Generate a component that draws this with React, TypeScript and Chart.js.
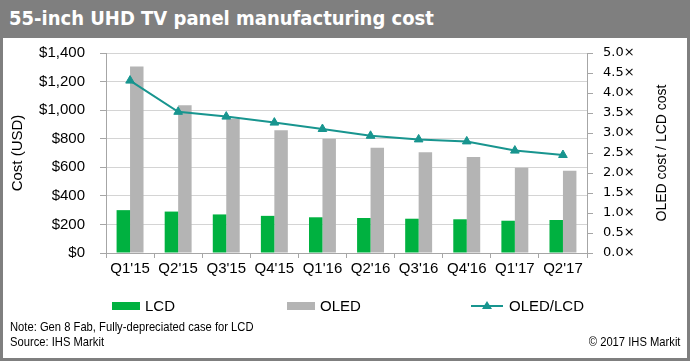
import React, { useEffect, useRef } from "react";
import { Chart, registerables } from "chart.js";

Chart.register(...registerables);

const categories = ["Q1'15", "Q2'15", "Q3'15", "Q4'15", "Q1'16", "Q2'16", "Q3'16", "Q4'16", "Q1'17", "Q2'17"];
const lcdCost = [300, 290, 270, 260, 250, 245, 240, 236, 226, 231];
const oledCost = [1305, 1035, 940, 860, 800, 737, 705, 672, 597, 576];
const costRatio = [4.31, 3.53, 3.41, 3.26, 3.1, 2.93, 2.84, 2.79, 2.56, 2.45];
const seriesLabels = ["LCD", "OLED", "OLED/LCD"];
const costAxisRange = [0, 1400, 200];
const ratioAxisRange = [0, 5, 0.5];
const ratioAxisTitle = "OLED cost / LCD cost";

const GREEN = "#00b140";
const GRAY = "#b4b4b4";
const TEAL = "#18958f";
const AXIS = "#a6a6a6";
const GRID = "#d4d4d4";
const ARIAL = '"Liberation Sans", Arial, sans-serif';

const legendPlugin = {
  id: "customLegend",
  afterDraw(chart: any) {
    const ctx = chart.ctx as CanvasRenderingContext2D;
    const xs = [112, 287, 471];
    const y = 306;
    chart.data.datasets.forEach((ds: any, i: number) => {
      const x = xs[i];
      ctx.save();
      ctx.font = `15px ${ARIAL}`;
      ctx.fillStyle = "#000";
      ctx.textBaseline = "middle";
      if (ds.type === "line") {
        ctx.strokeStyle = ds.borderColor;
        ctx.lineWidth = 2;
        ctx.beginPath();
        ctx.moveTo(x, y);
        ctx.lineTo(x + 32, y);
        ctx.stroke();
        ctx.fillStyle = ds.borderColor;
        ctx.beginPath();
        ctx.moveTo(x + 16, y - 5);
        ctx.lineTo(x + 21, y + 3);
        ctx.lineTo(x + 11, y + 3);
        ctx.closePath();
        ctx.fill();
        ctx.fillStyle = "#000";
        ctx.fillText(ds.label, x + 38, y + 1);
      } else {
        ctx.fillStyle = ds.backgroundColor;
        ctx.fillRect(x, y - 4, 28, 8);
        ctx.fillStyle = "#000";
        ctx.fillText(ds.label, x + 33, y + 1);
      }
      ctx.restore();
    });
  },
};

const rightTitlePlugin = {
  id: "rightTitle",
  afterDraw(chart: any) {
    const ctx = chart.ctx as CanvasRenderingContext2D;
    const s = chart.scales.y1;
    const cy = (s.top + s.bottom) / 2;
    ctx.save();
    ctx.translate(s.right - 18, cy);
    ctx.rotate(-Math.PI / 2);
    ctx.font = `14px ${ARIAL}`;
    ctx.fillStyle = "#000";
    ctx.textAlign = "center";
    ctx.textBaseline = "middle";
    ctx.fillText(ratioAxisTitle, 0, 0);
    ctx.restore();
  },
};

export default function App() {
  const ref = useRef<HTMLCanvasElement>(null);
  useEffect(() => {
    document.body.style.margin = "0";
    const chart = new Chart(ref.current as HTMLCanvasElement, {
      type: "bar",
      data: {
        labels: categories,
        datasets: [
          {
            type: "bar",
            label: seriesLabels[0],
            data: lcdCost,
            backgroundColor: GREEN,
            yAxisID: "y",
            order: 1,
            categoryPercentage: 0.56,
            barPercentage: 1,
          },
          {
            type: "bar",
            label: seriesLabels[1],
            data: oledCost,
            backgroundColor: GRAY,
            yAxisID: "y",
            order: 1,
            categoryPercentage: 0.56,
            barPercentage: 1,
          },
          {
            type: "line",
            label: seriesLabels[2],
            data: costRatio,
            borderColor: TEAL,
            backgroundColor: TEAL,
            borderWidth: 2,
            pointStyle: "triangle",
            pointRadius: 5,
            pointBorderWidth: 1,
            pointBackgroundColor: TEAL,
            pointBorderColor: TEAL,
            tension: 0,
            yAxisID: "y1",
            order: 0,
          },
        ] as any,
      },
      options: {
        animation: false,
        responsive: false,
        layout: { padding: { left: 8, right: 10, top: 53, bottom: 78 } },
        plugins: { legend: { display: false }, tooltip: { enabled: false } },
        scales: {
          x: {
            grid: { offset: true, drawOnChartArea: false, tickLength: 5, color: AXIS },
            border: { color: AXIS },
            ticks: { font: { family: ARIAL, size: 15 }, color: "#000", padding: 2, maxRotation: 0, autoSkip: false },
            afterFit: (s: any) => {
              s.height = 30;
            },
          },
          y: {
            position: "left",
            min: costAxisRange[0],
            max: costAxisRange[1],
            ticks: {
              stepSize: costAxisRange[2],
              callback: (v: any) => "$" + Number(v).toLocaleString("en-US"),
              font: { family: ARIAL, size: 15 },
              color: "#000",
              padding: 15,
            },
            grid: { color: GRID, tickLength: 6, tickColor: AXIS },
            border: { color: AXIS },
            title: {
              display: true,
              text: "Cost (USD)",
              font: { family: ARIAL, size: 15 },
              color: "#000",
              padding: { top: 1, bottom: 0 },
            },
            afterFit: (s: any) => {
              s.width = 98;
            },
          },
          y1: {
            position: "right",
            min: ratioAxisRange[0],
            max: ratioAxisRange[1],
            ticks: {
              stepSize: ratioAxisRange[2],
              callback: (v: any) => Number(v).toFixed(1) + "×",
              font: { family: '"DejaVu Sans", Verdana, sans-serif', size: 13 },
              color: "#000",
              padding: 10,
            },
            grid: { drawOnChartArea: false, tickLength: 6, color: AXIS },
            border: { color: AXIS },
            title: { display: false },
            afterFit: (s: any) => {
              s.width = 93;
            },
          },
        },
      } as any,
      plugins: [legendPlugin, rightTitlePlugin],
    });
    return () => chart.destroy();
  }, []);

  const noteStyle: React.CSSProperties = {
    position: "absolute",
    fontFamily: ARIAL,
    fontSize: 13.5,
    lineHeight: "15px",
    color: "#000",
    whiteSpace: "nowrap",
  };
  return (
    <div style={{ position: "relative", width: 690, height: 361, background: "#7f7f7f", overflow: "hidden" }}>
      <div style={{ position: "absolute", left: 3, top: 38, width: 684, height: 320, background: "#fff" }} />
      <div
        style={{
          position: "absolute",
          left: 9,
          top: 0,
          height: 38,
          lineHeight: "37px",
          color: "#fff",
          fontFamily: '"DejaVu Sans Condensed", "DejaVu Sans", sans-serif',
          fontStretch: "condensed",
          fontWeight: "bold",
          fontSize: 20,
          whiteSpace: "nowrap",
        }}
      >
        55-inch UHD TV panel manufacturing cost
      </div>
      <canvas ref={ref} width={690} height={361} style={{ position: "absolute", left: 0, top: 0 }} />
      <div style={{ ...noteStyle, left: 10, top: 319, transform: "scaleX(0.83)", transformOrigin: "left top" }}>
        <div>Note: Gen 8 Fab, Fully-depreciated case for LCD</div>
        <div>Source: IHS Markit</div>
      </div>
      <div style={{ ...noteStyle, right: 10, top: 334, transform: "scaleX(0.83)", transformOrigin: "right top" }}>
        © 2017 IHS Markit
      </div>
    </div>
  );
}
